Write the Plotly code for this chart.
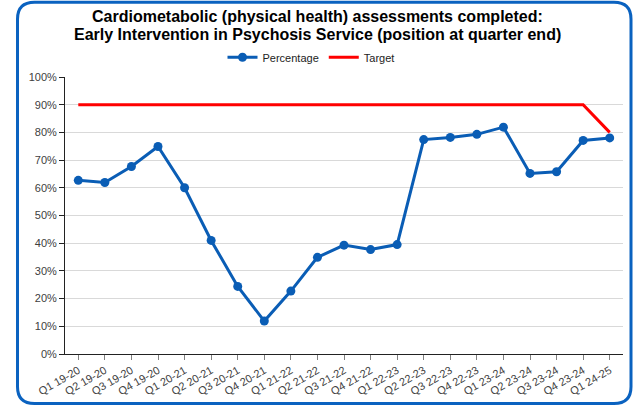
import plotly.graph_objects as go

# Quarter labels and series values (percent)
quarters = [
    "Q1 19-20", "Q2 19-20", "Q3 19-20", "Q4 19-20",
    "Q1 20-21", "Q2 20-21", "Q3 20-21", "Q4 20-21",
    "Q1 21-22", "Q2 21-22", "Q3 21-22", "Q4 21-22",
    "Q1 22-23", "Q2 22-23", "Q3 22-23", "Q4 22-23",
    "Q1 23-24", "Q2 23-24", "Q3 23-24", "Q4 23-24",
    "Q1 24-25",
]
percentage = [
    62.7, 61.9, 67.7, 74.9,
    60.0, 41.0, 24.4, 11.9,
    22.7, 34.9, 39.3, 37.7,
    39.5, 77.4, 78.2, 79.3,
    81.9, 65.2, 65.8, 77.1,
    78.0,
]
target = [90] * 20 + [80]
title_lines = [
    "Cardiometabolic (physical health) assessments completed:",
    "Early Intervention in Psychosis Service (position at quarter end)",
]

W, H = 635, 409
L, R, T, B = 65, 12, 77, 52
plot_w = W - L - R
plot_h = H - T - B


def px_to_paper(px, py):
    return (px - L) / plot_w, (H - B - py) / plot_h


# Rounded outer frame drawn in paper coordinates
x0, y0 = px_to_paper(17.5, 407)
x1, y1 = px_to_paper(631, 1.5)
rx, ry = 17 / plot_w, 17 / plot_h
frame_path = (
    f"M {x0 + rx},{y1} L {x1 - rx},{y1} Q {x1},{y1} {x1},{y1 - ry} "
    f"L {x1},{y0 + ry} Q {x1},{y0} {x1 - rx},{y0} "
    f"L {x0 + rx},{y0} Q {x0},{y0} {x0},{y0 + ry} "
    f"L {x0},{y1 - ry} Q {x0},{y1} {x0 + rx},{y1} Z"
)

blue = "#0A5DB5"
font = "Liberation Sans, Arial, sans-serif"

fig = go.Figure()
fig.add_trace(go.Scatter(
    x=quarters, y=percentage, name="Percentage", mode="lines+markers",
    line=dict(color=blue, width=3), marker=dict(color=blue, size=9),
))
fig.add_trace(go.Scatter(
    x=quarters, y=target, name="Target", mode="lines",
    line=dict(color="#FF0000", width=3),
))

# Two-line bold heading with tight line spacing
title_annotations = []
for text, cy in zip(title_lines, [16, 34]):
    ax, ay = px_to_paper(W / 2, cy)
    title_annotations.append(dict(
        text=f"<b>{text}</b>", x=ax, y=ay, xref="paper", yref="paper",
        xanchor="center", yanchor="middle", showarrow=False,
        font=dict(family=font, size=16, color="black"),
    ))

fig.update_layout(
    width=W, height=H,
    margin=dict(l=L, r=R, t=T, b=B),
    paper_bgcolor="white", plot_bgcolor="white",
    font=dict(family=font, size=11, color="#404040"),
    annotations=title_annotations,
    legend=dict(
        orientation="h", x=(311 - L) / plot_w, xanchor="center",
        y=(H - B - 57) / plot_h, yanchor="middle",
        font=dict(size=11, color="#222222"), bgcolor="rgba(0,0,0,0)",
        itemwidth=30, tracegroupgap=0,
    ),
    showlegend=True,
    shapes=[dict(type="path", path=frame_path, xref="paper", yref="paper",
                 line=dict(color="#0A62C0", width=3), fillcolor="rgba(0,0,0,0)",
                 layer="above")],
)
fig.update_xaxes(
    type="category", range=[-0.5, len(quarters) - 0.5],
    showline=True, linecolor="#222222", linewidth=1,
    ticks="outside", ticklen=5, tickcolor="#808080",
    tickangle=-30, showgrid=False,
    tickfont=dict(size=11, color="#404040"),
)
fig.update_yaxes(
    range=[0, 100], dtick=10, ticksuffix="%",
    showline=True, linecolor="#222222", linewidth=1,
    ticks="outside", ticklen=5, tickcolor="#222222",
    showgrid=True, gridcolor="#D9D9D9", gridwidth=1,
    zeroline=False, tickfont=dict(size=11, color="#404040"),
)

fig.write_html("out.html")
